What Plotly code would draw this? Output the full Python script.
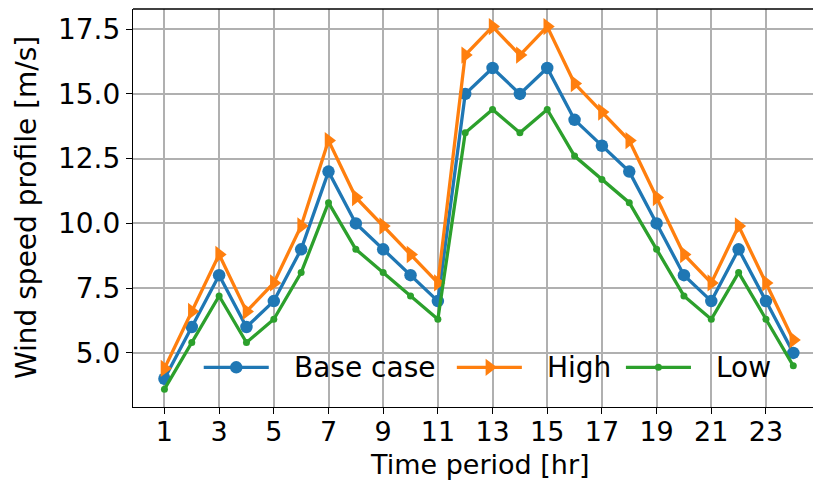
import plotly.graph_objects as go

# Hourly wind speed profiles [m/s]
hours = list(range(1, 25))
base_case = [4, 6, 8, 6, 7, 9, 12, 10, 9, 8, 7, 15,
             16, 15, 16, 14, 13, 12, 10, 8, 7, 9, 7, 5]
high = [4.4, 6.6, 8.8, 6.6, 7.7, 9.9, 13.2, 11.0, 9.9, 8.8, 7.7, 16.5,
        17.6, 16.5, 17.6, 15.4, 14.3, 13.2, 11.0, 8.8, 7.7, 9.9, 7.7, 5.5]
low = [3.6, 5.4, 7.2, 5.4, 6.3, 8.1, 10.8, 9.0, 8.1, 7.2, 6.3, 13.5,
       14.4, 13.5, 14.4, 12.6, 11.7, 10.8, 9.0, 7.2, 6.3, 8.1, 6.3, 4.5]

x_ticks = list(range(1, 24, 2))
y_ticks = [5.0, 7.5, 10.0, 12.5, 15.0, 17.5]
series_names = ["Base case", "High", "Low"]

BLUE, ORANGE, GREEN = "#1f77b4", "#ff7f0e", "#2ca02c"
FONT = "DejaVu Sans"
FS = 28
LW = 3.3

styles = [
    dict(color=BLUE, symbol="circle", size=12.5),
    dict(color=ORANGE, symbol="triangle-right", size=15),
    dict(color=GREEN, symbol="circle", size=7),
]

fig = go.Figure()
for name, ys, st in zip(series_names, [base_case, high, low], styles):
    fig.add_trace(go.Scatter(
        x=hours, y=ys, name=name, mode="lines+markers",
        line=dict(color=st["color"], width=LW),
        marker=dict(color=st["color"], symbol=st["symbol"], size=st["size"],
                    line=dict(width=0)),
        showlegend=False,
    ))

# Legend drawn in a pixel-space overlay (x: 133..813, y: 407..9)
legend_y = 367.3
legend_items = [
    (204, 269, 292.7),
    (457, 522, 545),
    (626, 691, 714),
]
for name, st, (x0, x1, tx) in zip(series_names, styles, legend_items):
    fig.add_trace(go.Scatter(
        x=[x0, x1], y=[legend_y, legend_y], mode="lines",
        line=dict(color=st["color"], width=LW),
        xaxis="x2", yaxis="y2", showlegend=False, hoverinfo="skip",
    ))
    fig.add_trace(go.Scatter(
        x=[(x0 + x1) / 2], y=[legend_y], mode="markers",
        marker=dict(color=st["color"], symbol=st["symbol"], size=st["size"],
                    line=dict(width=0)),
        xaxis="x2", yaxis="y2", showlegend=False, hoverinfo="skip",
    ))
    fig.add_annotation(
        x=tx, y=legend_y, xref="x2", yref="y2", text=name,
        showarrow=False, xanchor="left", yanchor="middle",
        font=dict(family=FONT, size=FS, color="black"),
    )

axis_common = dict(
    showline=True, linecolor="black", linewidth=1.3,
    ticks="outside", ticklen=6, tickwidth=1.3, tickcolor="black",
    showgrid=True, gridcolor="#b0b0b0", gridwidth=1.5,
    zeroline=False,
)

fig.update_layout(
    width=813, height=482,
    margin=dict(l=133, r=0, t=9, b=75),
    plot_bgcolor="white", paper_bgcolor="white",
    xaxis=dict(range=[-0.15, 24.72], tickvals=x_ticks, ticklabelstandoff=-6,
               tickfont=dict(family=FONT, size=27, color="black"),
               **axis_common),
    yaxis=dict(range=[2.91, 18.28], tickvals=y_ticks, tickformat=".1f",
               tickfont=dict(family=FONT, size=FS, color="black"),
               **axis_common),
    xaxis2=dict(range=[133.3, 813], overlaying="x", visible=False),
    yaxis2=dict(range=[407, 9], overlaying="y", visible=False),
    showlegend=False,
)

# Top spine
fig.add_shape(type="line", xref="paper", yref="paper", x0=0, x1=1, y0=1, y1=1,
              line=dict(color="black", width=1.3))

# Axis labels
fig.add_annotation(
    x=0, y=0.5, xref="paper", yref="paper", text="Wind speed profile [m/s]",
    textangle=-90, showarrow=False, xanchor="center", yanchor="middle",
    xshift=-107, font=dict(family=FONT, size=FS, color="black"),
)
fig.add_annotation(
    x=0.511, y=0, xref="paper", yref="paper", text="Time period [hr]",
    showarrow=False, xanchor="center", yanchor="middle",
    yshift=-57, font=dict(family=FONT, size=27, color="black"),
)

fig.write_html("out.html")
